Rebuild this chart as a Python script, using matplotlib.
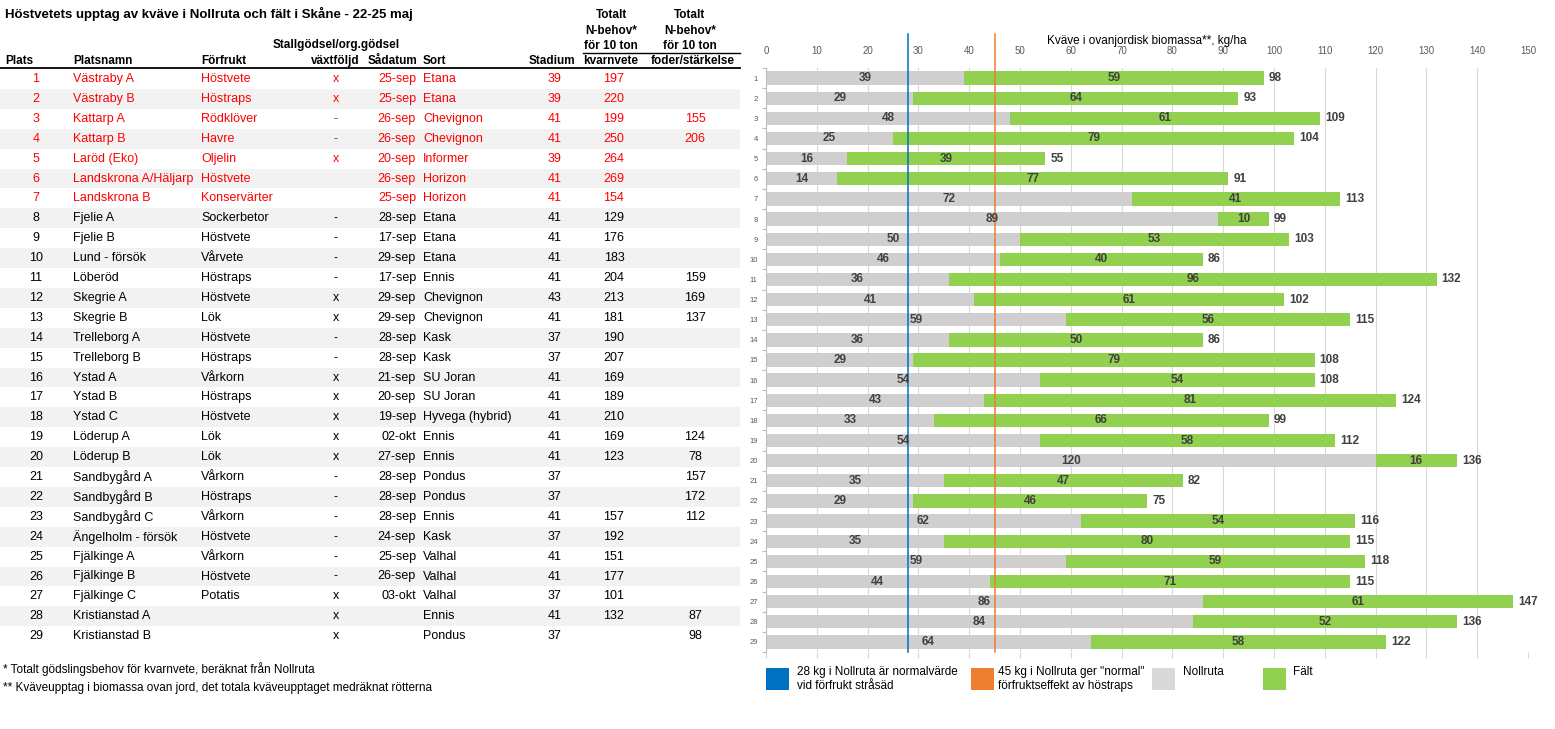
import numpy as np
import matplotlib.pyplot as plt
from matplotlib.patches import Rectangle

plt.rcParams['font.family'] = ['Liberation Sans', 'DejaVu Sans']

# table data
plats = list(range(1, 30))
platsnamn = ['Västraby A', 'Västraby B', 'Kattarp A', 'Kattarp B', 'Laröd (Eko)',
             'Landskrona A/Häljarp', 'Landskrona B', 'Fjelie A', 'Fjelie B', 'Lund - försök',
             'Löberöd', 'Skegrie A', 'Skegrie B', 'Trelleborg A', 'Trelleborg B',
             'Ystad A', 'Ystad B', 'Ystad C', 'Löderup A', 'Löderup B',
             'Sandbygård A', 'Sandbygård B', 'Sandbygård C', 'Ängelholm - försök', 'Fjälkinge A',
             'Fjälkinge B', 'Fjälkinge C', 'Kristianstad A', 'Kristianstad B']
forfrukt = ['Höstvete', 'Höstraps', 'Rödklöver', 'Havre', 'Oljelin',
            'Höstvete', 'Konservärter', 'Sockerbetor', 'Höstvete', 'Vårvete',
            'Höstraps', 'Höstvete', 'Lök', 'Höstvete', 'Höstraps',
            'Vårkorn', 'Höstraps', 'Höstvete', 'Lök', 'Lök',
            'Vårkorn', 'Höstraps', 'Vårkorn', 'Höstvete', 'Vårkorn',
            'Höstvete', 'Potatis', '', '']
stallgodsel = ['x', 'x', '-', '-', 'x', '', '', '-', '-', '-',
               '-', 'x', 'x', '-', '-', 'x', 'x', 'x', 'x', 'x',
               '-', '-', '-', '-', '-', '-', 'x', 'x', 'x']
sadatum = ['25-sep', '25-sep', '26-sep', '26-sep', '20-sep', '26-sep', '25-sep', '28-sep', '17-sep', '29-sep',
           '17-sep', '29-sep', '29-sep', '28-sep', '28-sep', '21-sep', '20-sep', '19-sep', '02-okt', '27-sep',
           '28-sep', '28-sep', '28-sep', '24-sep', '25-sep', '26-sep', '03-okt', '', '']
sort = ['Etana', 'Etana', 'Chevignon', 'Chevignon', 'Informer', 'Horizon', 'Horizon', 'Etana', 'Etana', 'Etana',
        'Ennis', 'Chevignon', 'Chevignon', 'Kask', 'Kask', 'SU Joran', 'SU Joran', 'Hyvega (hybrid)', 'Ennis', 'Ennis',
        'Pondus', 'Pondus', 'Ennis', 'Kask', 'Valhal', 'Valhal', 'Valhal', 'Ennis', 'Pondus']
stadium = [39, 39, 41, 41, 39, 41, 41, 41, 41, 41, 41, 43, 41, 37, 37, 41, 41, 41, 41, 41,
           37, 37, 41, 37, 41, 41, 37, 41, 37]
kvarnvete = ['197', '220', '199', '250', '264', '269', '154', '129', '176', '183',
             '204', '213', '181', '190', '207', '169', '189', '210', '169', '123',
             '', '', '157', '192', '151', '177', '101', '132', '']
foder = ['', '', '155', '206', '', '', '', '', '', '',
         '159', '169', '137', '', '', '', '', '', '124', '78',
         '157', '172', '112', '', '', '', '', '87', '98']

# bar data
nollruta = [39, 29, 48, 25, 16, 14, 72, 89, 50, 46, 36, 41, 59, 36, 29, 54, 43, 33, 54, 120,
            35, 29, 62, 35, 59, 44, 86, 84, 64]
falt = [59, 64, 61, 79, 39, 77, 41, 10, 53, 40, 96, 61, 56, 50, 79, 54, 81, 66, 58, 16,
        47, 46, 54, 80, 59, 71, 61, 52, 58]
normal_strasad = 28
normal_hostraps = 45

W, H = 1555, 729
fig = plt.figure(figsize=(W / 100, H / 100), dpi=100)

# background axes in pixel coords for the table
bg = fig.add_axes([0, 0, 1, 1])
bg.set_xlim(0, W)
bg.set_ylim(H, 0)
bg.axis('off')

fs = 9
red = '#FF0000'
row0, pitch = 79, 19.9

bg.text(5, 14, 'Höstvetets upptag av kväve i Nollruta och fält i Skåne - 22-25 maj',
        fontsize=9.5, fontweight='bold', va='center')

hdr = dict(fontsize=8.5, fontweight='bold', va='center')
for cx in (611, 690):
    bg.text(cx, 15, 'Totalt', ha='center', **hdr)
    bg.text(cx, 31, 'N-behov*', ha='center', **hdr)
    bg.text(cx, 46, 'för 10 ton', ha='center', **hdr)
bg.text(336, 45, 'Stallgödsel/org.gödsel', ha='center', **hdr)
bg.text(5, 61, 'Plats', ha='left', **hdr)
bg.text(73, 61, 'Platsnamn', ha='left', **hdr)
bg.text(201, 61, 'Förfrukt', ha='left', **hdr)
bg.text(360, 61, 'växtföljd', ha='right', **hdr)
bg.text(368, 61, 'Sådatum', ha='left', **hdr)
bg.text(423, 61, 'Sort', ha='left', **hdr)
bg.text(575, 61, 'Stadium', ha='right', **hdr)
bg.text(611, 61, 'kvarnvete', ha='center', **hdr)
bg.text(693, 61, 'foder/stärkelse', ha='center', **hdr)
bg.plot([0, 740], [67.5, 67.5], color='black', lw=1.3)
bg.plot([583, 740], [52.5, 52.5], color='black', lw=1.0)

for i in range(len(plats)):
    y = row0 + i * pitch
    if i % 2 == 1:
        bg.add_patch(Rectangle((0, y - pitch / 2), 740, pitch, color='#F2F2F2', lw=0, zorder=0))
    c = red if i < 7 else 'black'
    kw = dict(fontsize=fs, color=c, va='center')
    bg.text(36, y, str(plats[i]), ha='center', **kw)
    bg.text(73, y, platsnamn[i], ha='left', **kw)
    bg.text(201, y, forfrukt[i], ha='left', **kw)
    bg.text(336, y, stallgodsel[i], ha='center', **kw)
    bg.text(416, y, sadatum[i], ha='right', **kw)
    bg.text(423, y, sort[i], ha='left', **kw)
    bg.text(555, y, str(stadium[i]), ha='center', **kw)
    bg.text(614, y, kvarnvete[i], ha='center', **kw)
    bg.text(695, y, foder[i], ha='center', **kw)

bg.text(3, 669, '* Totalt gödslingsbehov för kvarnvete, beräknat från Nollruta', fontsize=8.5, va='center')
bg.text(3, 688, '** Kväveupptag i biomassa ovan jord, det totala kväveupptaget medräknat rötterna',
        fontsize=8.5, va='center')

# legend
leg = [(766, '#0070C0', 797, '28 kg i Nollruta är normalvärde\nvid förfrukt stråsäd'),
       (971, '#ED7D31', 998, '45 kg i Nollruta ger "normal"\nförfruktseffekt av höstraps'),
       (1152, '#D9D9D9', 1183, 'Nollruta'),
       (1263, '#92D050', 1293, 'Fält')]
for sx, col, tx, lab in leg:
    bg.add_patch(Rectangle((sx, 668), 23, 22, color=col, lw=0))
    bg.text(tx, 666, lab, fontsize=8.5, va='top', linespacing=1.25)

# bar chart
ax = fig.add_axes([766 / W, 1 - 652 / H, 762 / W, 584 / H])
ypos = np.arange(len(nollruta))
nollruta = np.array(nollruta)
falt = np.array(falt)
total = nollruta + falt
bh = 0.66
ax.barh(ypos, nollruta, height=bh, color='#D0CECE', zorder=2)
ax.barh(ypos, falt, left=nollruta, height=bh, color='#92D050', zorder=2)
lab = dict(fontsize=8.5, fontweight='bold', color='#404040', va='center', zorder=4)
for i in range(len(ypos)):
    ax.text(nollruta[i] / 2, ypos[i], str(nollruta[i]), ha='center', **lab)
    ax.text(nollruta[i] + falt[i] / 2, ypos[i], str(falt[i]), ha='center', **lab)
    ax.text(total[i] + 1, ypos[i], str(total[i]), ha='left', **lab)

ax.set_xlim(0, 150)
ax.set_ylim(len(ypos) - 0.5, -0.5)
ax.set_xticks(np.arange(0, 151, 10))
ax.tick_params(axis='x', top=True, labeltop=True, bottom=True, labelbottom=False,
               length=0, labelsize=7, labelcolor='#595959', pad=5)
ax.tick_params(axis='x', which='major', bottom=True, length=4, color='#D9D9D9', width=0.8)
ax.tick_params(axis='x', top=False)
ax.set_yticks(ypos)
ax.set_yticklabels([str(p) for p in plats])
ax.tick_params(axis='y', which='major', length=0, labelsize=5.5, labelcolor='#595959', pad=6)
ax.set_yticks(np.arange(-0.5, len(ypos), 1), minor=True)
ax.tick_params(axis='y', which='minor', length=3, color='#BFBFBF', width=0.8)
ax.grid(axis='x', color='#D9D9D9', lw=0.8, zorder=0)
for s in ['top', 'right', 'bottom']:
    ax.spines[s].set_visible(False)
ax.spines['left'].set_color('#BFBFBF')
top_ext = (652 - 34) / 584
ax.axvline(normal_strasad, ymin=0, ymax=top_ext, color='#0070C0', lw=1.1, zorder=3, clip_on=False)
ax.axvline(normal_hostraps, ymin=0, ymax=top_ext, color='#ED7D31', lw=1.1, zorder=3, clip_on=False)
ax.text(0.5, (652 - 41) / 584, 'Kväve i ovanjordisk biomassa**, kg/ha', transform=ax.transAxes,
        ha='center', va='center', fontsize=8.5)

fig.savefig('out.png', dpi=100)
